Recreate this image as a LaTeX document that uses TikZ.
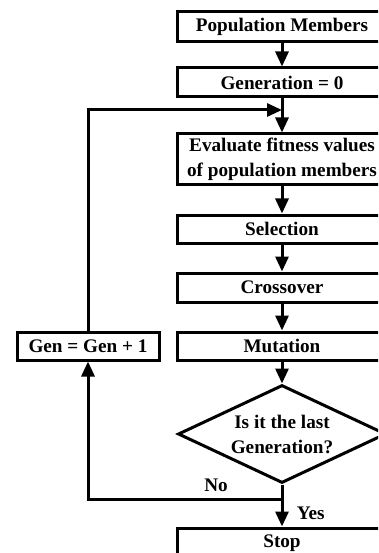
\documentclass[tikz,border=0pt]{standalone}
\usepackage{fontspec}
\setmainfont{Liberation Serif}
\usetikzlibrary{arrows.meta,shapes.geometric}

\begin{document}
\begin{tikzpicture}[
  x=1pt, y=-1pt,
  >={Triangle[length=15pt,width=13pt]},
  line width=3pt,
  every node/.style={font=\fontsize{19.2}{25}\selectfont\bfseries},
  flowbox/.style={draw, rectangle, minimum width=210pt, minimum height=29pt, inner sep=0pt, align=center},
  decide/.style={draw, diamond, aspect=2.12, minimum width=208pt, minimum height=98pt, inner sep=0pt, align=center}
]
  \useasboundingbox (0,0) rectangle (378,553);
  \clip (0,0) rectangle (378,553);

  \node[flowbox, minimum height=30pt] (pop) at (282,27) {Population Members};
  \node[flowbox] (gen0) at (282,82.5) {Generation = 0};
  \node[flowbox, minimum height=51pt] (eval) at (282,159.5) {Evaluate fitness values\\of population members};
  \node[flowbox, minimum height=28pt] (sel) at (282,229) {Selection};
  \node[flowbox] (cross) at (282,287.5) {Crossover};
  \node[flowbox, minimum height=28pt] (mut) at (282,346) {Mutation};
  \node[decide] (last) at (282,434) {Is it the last\\Generation?};
  \node[flowbox, minimum height=30pt] (stop) at (282,543) {Stop};
  \node[flowbox, minimum width=142pt, minimum height=28pt] (inc) at (88,346) {Gen = Gen + 1};

  \coordinate (loopin) at (282,110);
  \coordinate (nojoin) at (282,499);

  % main column
  \draw[->] (pop) -- (gen0);
  \draw[->] (gen0) -- (eval);
  \draw[->] (eval) -- (sel);
  \draw[->] (sel) -- (cross);
  \draw[->] (cross) -- (mut);
  \draw[->] (mut) -- (last);
  \draw[->] (last) -- (stop) node[pos=.68, right=10pt] {Yes};

  % loop back
  \draw[->] (nojoin) -- (nojoin -| inc) node[pos=.34, above=2pt] {No} -- (inc);
  \draw[->] (inc) |- (loopin);
\end{tikzpicture}
\end{document}
